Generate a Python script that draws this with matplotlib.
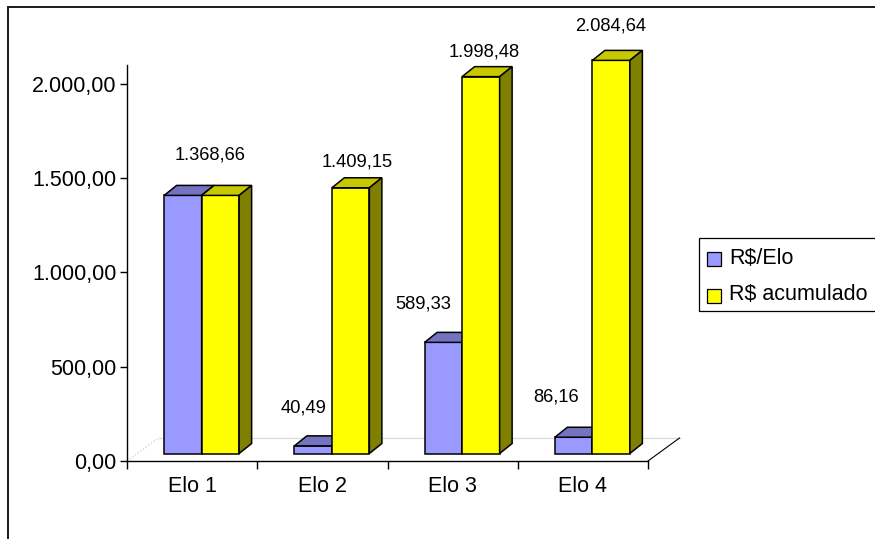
"""
Custo por elo da cadeia e custo acumulado, em colunas com efeito 3D.
"""

import matplotlib

matplotlib.use("Agg")
import matplotlib.pyplot as plt
from matplotlib.lines import Line2D
from matplotlib.patches import Polygon, Rectangle

categories = ["Elo 1", "Elo 2", "Elo 3", "Elo 4"]
series_names = ["R$/Elo", "R$ acumulado"]
valor_elo = [1368.66, 40.49, 589.33, 86.16]
valor_acumulado = [1368.66, 1409.15, 1998.48, 2084.64]
y_ticks = [0, 500, 1000, 1500, 2000]

# figure size in pixels and plot area (pixels from the top-left corner)
W, H, DPI = 875, 539, 100
PLOT_LEFT, PLOT_RIGHT, PLOT_TOP, PLOT_BOTTOM = 127, 648, 65, 461
Y_MAX = 2100

# 3D look, all in pixels (x right, y up)
FLOOR_DEPTH = (31.5, 23.0)
BAR_SHIFT = (9.5, 7.5)
BAR_DEPTH = (12.5, 10.0)
BAR_WIDTH = 37.5

# front / top / side colours for each series
COLORS = [
    ("#9999FF", "#7373BF", "#5C5C99"),
    ("#FFFF00", "#C8C800", "#808000"),
]

# label offsets from the centre of each bar's front top edge, pixels (None = hidden)
LABEL_OFFSETS = [
    [None, (-10, 38), (-20.5, 38), (-18, 40)],
    [(-10, 40), (7, 26), (3, 25), (-1, 34)],
]


def fmt_br(value: float) -> str:
    """Format a number as 1.234,56."""
    s = f"{value:,.2f}"
    return s.replace(",", "X").replace(".", ",").replace("X", ".")


def draw_bar(ax, x_left, value, colors, sx, sy, zorder):
    """Draw one column as front, top and side faces."""
    x0 = x_left
    x1 = x0 + BAR_WIDTH / sx
    y0 = BAR_SHIFT[1] / sy
    y1 = y0 + value
    ddx, ddy = BAR_DEPTH[0] / sx, BAR_DEPTH[1] / sy
    front, top, side = colors
    faces = [
        ([(x0, y0), (x1, y0), (x1, y1), (x0, y1)], front),
        ([(x0, y1), (x1, y1), (x1 + ddx, y1 + ddy), (x0 + ddx, y1 + ddy)], top),
        ([(x1, y0), (x1 + ddx, y0 + ddy), (x1 + ddx, y1 + ddy), (x1, y1)], side),
    ]
    for verts, color in faces:
        ax.add_patch(
            Polygon(
                verts,
                closed=True,
                facecolor=color,
                edgecolor="black",
                linewidth=1.1,
                joinstyle="miter",
                clip_on=False,
                zorder=zorder,
            )
        )
    return (x0 + x1) / 2, y1


def main() -> None:
    plt.rcParams["font.family"] = ["Liberation Sans", "DejaVu Sans"]

    fig = plt.figure(figsize=(W / DPI, H / DPI), dpi=DPI)
    ax = fig.add_axes(
        [
            PLOT_LEFT / W,
            1 - PLOT_BOTTOM / H,
            (PLOT_RIGHT - PLOT_LEFT) / W,
            (PLOT_BOTTOM - PLOT_TOP) / H,
        ]
    )
    n = len(categories)
    ax.set_xlim(-0.5, n - 0.5)
    ax.set_ylim(0, Y_MAX)
    sx = (PLOT_RIGHT - PLOT_LEFT) / n
    sy = (PLOT_BOTTOM - PLOT_TOP) / Y_MAX

    # floor outline
    fdx, fdy = FLOOR_DEPTH[0] / sx, FLOOR_DEPTH[1] / sy
    ax.add_line(Line2D([-0.5 + fdx, n - 0.5 + fdx], [fdy, fdy], color="#D9D9D9",
                       linewidth=0.9, clip_on=False, zorder=1))
    ax.add_line(Line2D([-0.5, -0.5 + fdx], [0, fdy], color="#CCCCCC",
                       linewidth=0.9, linestyle=":", clip_on=False, zorder=1))
    ax.add_line(Line2D([n - 0.5, n - 0.5 + fdx], [0, fdy], color="black",
                       linewidth=0.8, clip_on=False, zorder=1))

    # columns and data labels
    series = [valor_elo, valor_acumulado]
    zorder = 2
    for i in range(n):
        group_left = i - BAR_WIDTH / sx + BAR_SHIFT[0] / sx
        for j, values in enumerate(series):
            xc, ytop = draw_bar(ax, group_left + j * BAR_WIDTH / sx, values[i],
                                COLORS[j], sx, sy, zorder)
            zorder += 1
            off = LABEL_OFFSETS[j][i]
            if off is not None:
                ax.text(xc + off[0] / sx, ytop + off[1] / sy, fmt_br(values[i]),
                        ha="center", va="center", fontsize=13.2, zorder=20)

    # axes
    for side in ("top", "right"):
        ax.spines[side].set_visible(False)
    for side in ("left", "bottom"):
        ax.spines[side].set_linewidth(1.0)
    ax.set_yticks(y_ticks)
    ax.set_yticklabels([fmt_br(v) for v in y_ticks], fontsize=15.5)
    ax.tick_params(axis="y", direction="out", length=4.7, width=1.0, pad=3)
    ax.set_xticks([k - 0.5 for k in range(n + 1)])
    ax.set_xticklabels([])
    ax.tick_params(axis="x", which="major", direction="out", length=6, width=1.0)
    ax.set_xticks(range(n), minor=True)
    ax.set_xticklabels(categories, minor=True, fontsize=15.5)
    ax.tick_params(axis="x", which="minor", length=0, pad=11)

    # chart border
    fig.add_artist(Rectangle((8 / W, -0.1), 1.2, 1 - 7 / H + 0.1, fill=False,
                             edgecolor="#1A1A1A", linewidth=1.4,
                             transform=fig.transFigure))

    # legend
    fig.add_artist(Rectangle((699 / W, 1 - 311 / H), 0.3, 73 / H, fill=False,
                             edgecolor="black", linewidth=0.9,
                             transform=fig.transFigure))
    for j, name in enumerate(series_names):
        top_px = 252 + j * 36.5
        fig.add_artist(Rectangle((707 / W, 1 - (top_px + 14) / H), 14 / W, 14 / H,
                                 facecolor=COLORS[j][0], edgecolor="black",
                                 linewidth=0.9, transform=fig.transFigure))
        fig.text(729 / W, 1 - (top_px + 6.5) / H, name, fontsize=15.5,
                 ha="left", va="center")

    fig.savefig("out.png", dpi=DPI)


if __name__ == "__main__":
    main()
